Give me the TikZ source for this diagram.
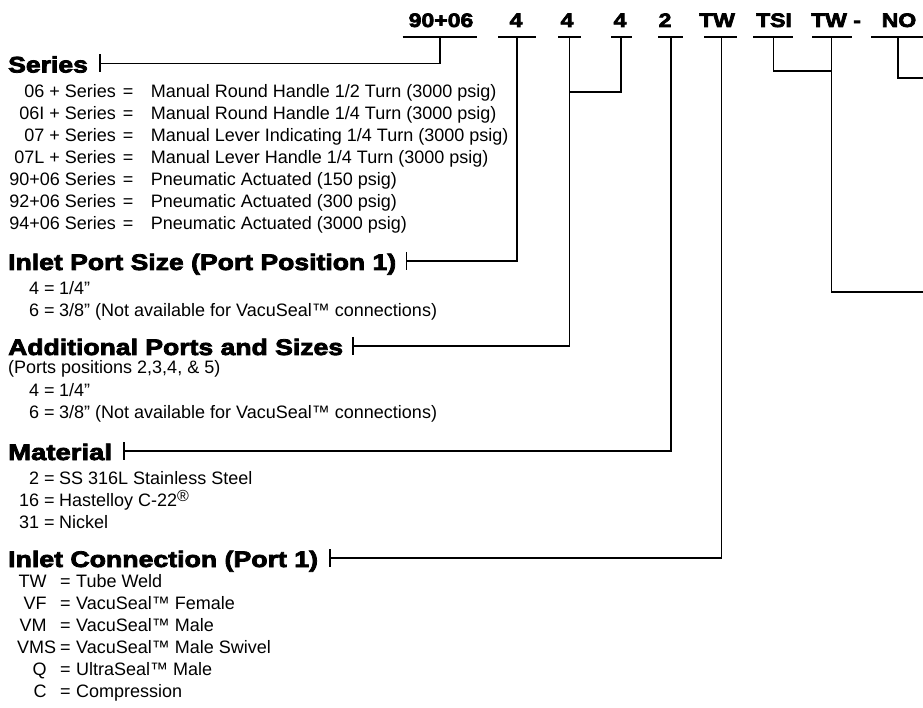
\documentclass[tikz,border=0pt]{standalone}
\usepackage{fontspec}
\setmainfont{Liberation Sans}
\newfontfamily\hd{Liberation Sans}[FakeBold=3.5,FakeStretch=1.18]
\newcommand{\sline}[2]{\makebox[150.7pt][l]{\makebox[115.7pt][r]{#1}\hspace{7pt}=}#2}
\newcommand{\pline}[2]{\makebox[59pt][l]{\makebox[39pt][r]{#1}\hspace{5pt}=}#2}
\newcommand{\iline}[4]{\makebox[76pt][l]{\makebox[#3pt][r]{#1}\hspace{#4pt}=}#2}
\begin{document}
\begin{tikzpicture}[x=1pt,y=-1pt,
  ln/.style={line width=1.3pt},
  ul/.style={line width=1.8pt},
  code/.style={font=\hd\bfseries\fontsize{19.5}{20}\selectfont, inner sep=0pt, anchor=base},
  head/.style={font=\hd\bfseries\fontsize{22.5}{24}\selectfont, inner sep=0pt, anchor=base west},
  item/.style={font=\fontsize{18}{22}\selectfont, inner sep=0pt, anchor=base west}]
\useasboundingbox (0,0) rectangle (923,708);

% ---- code row ----
\node[code] (c1) at (441,27) {90+06};
\node[code] (c2) at (516,27) {4};
\node[code] (c3) at (567,27) {4};
\node[code] (c4) at (620,27) {4};
\node[code] (c5) at (665,27) {2};
\node[code] (c6) at (717,27) {TW};
\node[code] (c7) at (774,27) {TSI};
\node[code] (c8) at (836,27) {TW -};
\node[code] (c9) at (899,27) {NO};

% underline end points and connector tops
\coordinate (u1a) at (402.7,37); \coordinate (u1b) at (476.7,37); \coordinate (v1) at (440,37);
\coordinate (u2a) at (498,37);   \coordinate (u2b) at (536,37);   \coordinate (v2) at (517,37);
\coordinate (u3a) at (558,37);   \coordinate (u3b) at (581,37);   \coordinate (v3) at (569.5,37);
\coordinate (u4a) at (611,37);   \coordinate (u4b) at (632,37);   \coordinate (v4) at (621,37);
\coordinate (u5a) at (658,37);   \coordinate (u5b) at (683,37);   \coordinate (v5) at (671,37);
\coordinate (u6a) at (704,37);   \coordinate (u6b) at (737,37);   \coordinate (v6) at (721.5,37);
\coordinate (u7a) at (753,37);   \coordinate (u7b) at (793,37);   \coordinate (v7) at (773.5,37);
\coordinate (u8a) at (812,37);   \coordinate (u8b) at (852,37);   \coordinate (v8) at (831.5,37);
\coordinate (u9a) at (871,37);   \coordinate (u9b) at (923,37);   \coordinate (v9) at (898,37);
\foreach \i in {1,...,9} {\draw[ul] (u\i a) -- (u\i b);}

% ---- headings ----
\node[head] (hS) at (8,72.5) {Series};
\node[head] (hP) at (8,270) {Inlet Port Size (Port Position 1)};
\node[head] (hA) at (8,355) {Additional Ports and Sizes};
\node[head] (hM) at (8,460) {\scalebox{1.035}[1]{Material}};
\node[head] (hI) at (8,567) {\scalebox{1.005}[1]{Inlet Connection (Port 1)}};

\coordinate (bS) at (100,63.5);
\coordinate (bP) at (406.7,261);
\coordinate (bA) at (353,346);
\coordinate (bM) at (124,451);
\coordinate (bI) at (330,558);
\foreach \b in {bS,bP,bA,bM,bI} {\draw[ln] ([yshift=9pt]\b) -- ([yshift=-9pt]\b);}

% ---- connectors ----
\coordinate (j4) at (569.5,92);
\coordinate (j7) at (831.5,71);
\coordinate (e8) at (923,292);
\coordinate (e9) at (923,78);
\draw[ln] (bS) -| (v1);
\draw[ln] (bP) -| (v2);
\draw[ln] (bA) -| (v3);
\draw[ln] (v4) |- (j4);
\draw[ln] (bM) -| (v5);
\draw[ln] (bI) -| (v6);
\draw[ln] (v7) |- (j7);
\draw[ln] (v8) |- (e8);
\draw[ln] (v9) |- (e9);

% ---- Series items ----
\node[item] (s1) at (0,97.5)  {\sline{06 + Series}{Manual Round Handle 1/2 Turn (3000 psig)}};
\node[item] (s2) at (0,119.5) {\sline{06I + Series}{Manual Round Handle 1/4 Turn (3000 psig)}};
\node[item] (s3) at (0,141.5) {\sline{07 + Series}{Manual Lever Indicating 1/4 Turn (3000 psig)}};
\node[item] (s4) at (0,163.5) {\sline{07L + Series}{Manual Lever Handle 1/4 Turn (3000 psig)}};
\node[item] (s5) at (0,185.5) {\sline{90+06 Series}{Pneumatic Actuated (150 psig)}};
\node[item] (s6) at (0,207.5) {\sline{92+06 Series}{Pneumatic Actuated (300 psig)}};
\node[item] (s7) at (0,229.5) {\sline{94+06 Series}{Pneumatic Actuated (3000 psig)}};

% ---- Inlet port size ----
\node[item] (p1) at (0,294.5) {\pline{4}{1/4”}};
\node[item] (p2) at (0,316.5) {\pline{6}{3/8” (Not available for VacuSeal™ connections)}};

% ---- Additional ports ----
\node[item] (a0) at (8,373.5) {(Ports positions 2,3,4, \& 5)};
\node[item] (a1) at (0,396.5) {\pline{4}{1/4”}};
\node[item] (a2) at (0,418.5) {\pline{6}{3/8” (Not available for VacuSeal™ connections)}};

% ---- Material ----
\node[item] (m1) at (0,484.5) {\pline{2}{SS 316L Stainless Steel}};
\node[item] (m2) at (0,506.5) {\pline{16}{Hastelloy C-22\raisebox{5pt}{\fontsize{16}{16}\selectfont ®}}};
\node[item] (m3) at (0,528.5) {\pline{31}{Nickel}};

% ---- Inlet connection ----
\node[item] (i1) at (0,587.5) {\iline{TW}{Tube Weld}{46.5}{13.5}};
\node[item] (i2) at (0,609.5) {\iline{VF}{VacuSeal™ Female}{46.5}{13.5}};
\node[item] (i3) at (0,631.5) {\iline{VM}{VacuSeal™ Male}{46.5}{13.5}};
\node[item] (i4) at (0,653.5) {\iline{VMS}{VacuSeal™ Male Swivel}{56}{4}};
\node[item] (i5) at (0,675.5) {\iline{Q}{UltraSeal™ Male}{46.5}{13.5}};
\node[item] (i6) at (0,697.5) {\iline{C}{Compression}{46.5}{13.5}};
\end{tikzpicture}
\end{document}
